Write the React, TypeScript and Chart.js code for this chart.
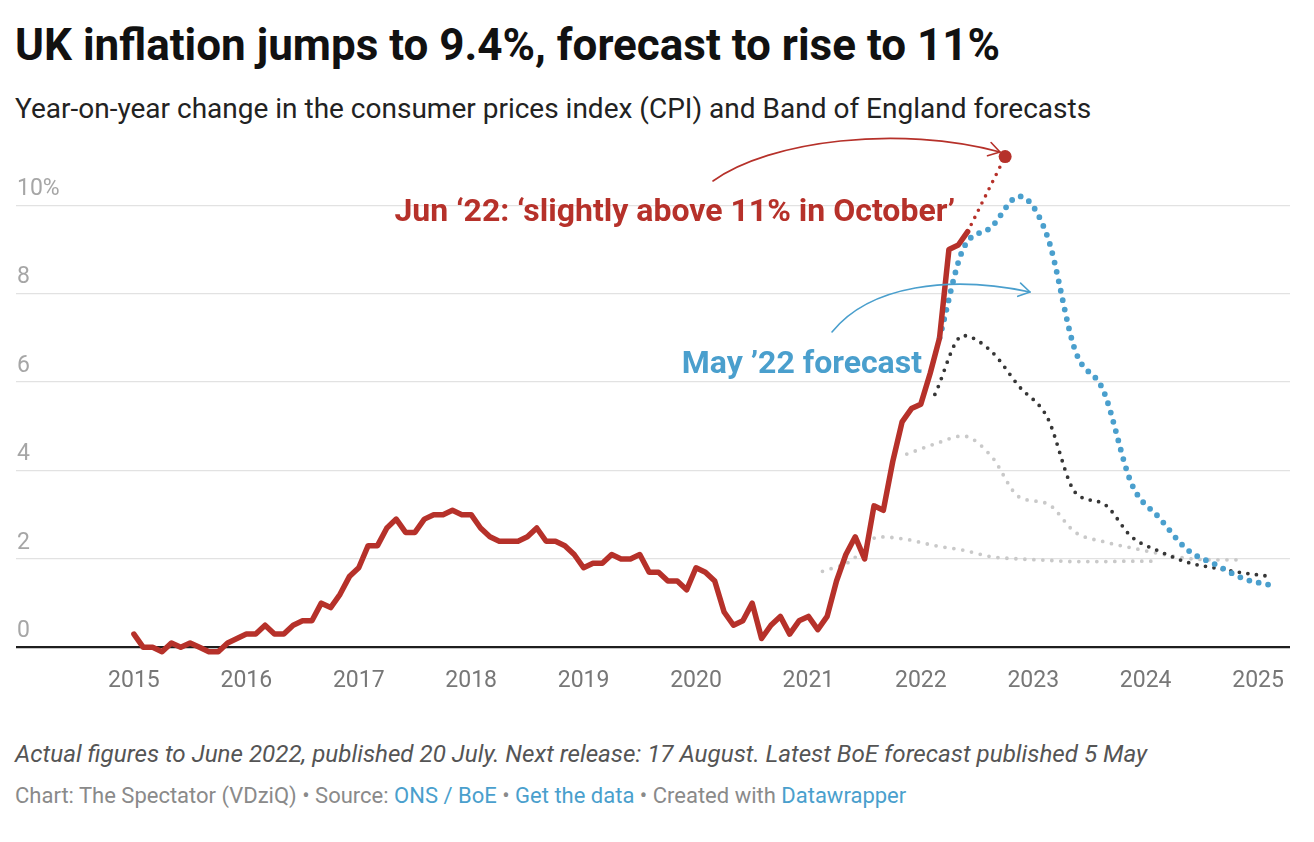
import React, { useEffect, useRef } from "react";
import { Chart, registerables } from "chart.js";

Chart.register(...registerables);

// ---------- data ----------
const firstYear = 2015; // monthly CPI series starts Jan 2015
const cpiActual = [
  0.3, 0.0, 0.0, -0.1, 0.1, 0.0, 0.1, 0.0, -0.1, -0.1, 0.1, 0.2,
  0.3, 0.3, 0.5, 0.3, 0.3, 0.5, 0.6, 0.6, 1.0, 0.9, 1.2, 1.6,
  1.8, 2.3, 2.3, 2.7, 2.9, 2.6, 2.6, 2.9, 3.0, 3.0, 3.1, 3.0,
  3.0, 2.7, 2.5, 2.4, 2.4, 2.4, 2.5, 2.7, 2.4, 2.4, 2.3, 2.1,
  1.8, 1.9, 1.9, 2.1, 2.0, 2.0, 2.1, 1.7, 1.7, 1.5, 1.5, 1.3,
  1.8, 1.7, 1.5, 0.8, 0.5, 0.6, 1.0, 0.2, 0.5, 0.7, 0.3, 0.6,
  0.7, 0.4, 0.7, 1.5, 2.1, 2.5, 2.0, 3.2, 3.1, 4.2, 5.1, 5.4,
  5.5, 6.2, 7.0, 9.0, 9.1, 9.4,
];

const jun22Dates = ["2022-06", "2022-10"];
const jun22Values = [9.4, 11.1];

const may22Dates = ["2022-03", "2022Q2", "2022Q3", "2022Q4", "2023Q1", "2023Q2", "2023Q3", "2023Q4", "2024Q1", "2024Q2", "2024Q3", "2024Q4", "2025Q1"];
const may22Values = [7.0, 9.0, 9.5, 10.2, 9.3, 6.7, 5.8, 3.7, 2.92, 2.2, 1.87, 1.55, 1.4];

const feb22Dates = ["2022Q1", "2022Q2", "2022Q3", "2022Q4", "2023Q1", "2023Q2", "2023Q3", "2023Q4", "2024Q1", "2024Q2", "2024Q3", "2024Q4", "2025Q1"];
const feb22Values = [5.72, 7.05, 6.7, 5.9, 5.2, 3.5, 3.25, 2.5, 2.17, 1.92, 1.79, 1.68, 1.6];

const nov21Dates = ["2021Q4", "2022Q1", "2022Q2", "2022Q3", "2022Q4", "2023Q1", "2023Q2", "2023Q3", "2023Q4", "2024Q1", "2024Q2", "2024Q3", "2024Q4"];
const nov21Values = [4.37, 4.6, 4.78, 4.33, 3.4, 3.25, 2.6, 2.39, 2.25, 2.12, 2.01, 1.98, 1.98];

const earlierDates = ["2021Q1", "2021Q2", "2021Q3", "2021Q4", "2022Q1", "2022Q2", "2022Q3", "2022Q4", "2023Q1", "2023Q2", "2023Q3", "2023Q4", "2024Q1"];
const earlierValues = [1.72, 1.95, 2.5, 2.44, 2.3, 2.2, 2.05, 2.0, 1.97, 1.94, 1.94, 1.95, 1.95];

const yearTicks = [2015, 2016, 2017, 2018, 2019, 2020, 2021, 2022, 2023, 2024, 2025];
const valueTicks = [0, 2, 4, 6, 8, 10];

// ---------- style ----------
const RED = "#b6312a";
const BLUE = "#4a9fcd";
const DARK = "#363636";
const GREY = "#c9c9c9";
const FONT = "Roboto, 'Noto Sans', sans-serif";

const CANVAS_TOP = 130;
const CANVAS_W = 1314;
const CANVAS_H = 579;
const X_MIN = 2013.951;
const X_MAX = 2025.284;
const Y_MIN = -0.2;
const Y_MAX = 11.5;

function dateToYear(s: string): number {
  const q = s.match(/^(\d{4})Q(\d)$/);
  if (q) return Number(q[1]) + (Number(q[2]) - 0.5) / 4;
  const m = s.match(/^(\d{4})-(\d{2})$/)!;
  return Number(m[1]) + (Number(m[2]) - 1) / 12;
}

function toPoints(dates: string[], values: number[]) {
  return dates.map((d, i) => ({ x: dateToYear(d), y: values[i] }));
}

function drawArrow(ctx: CanvasRenderingContext2D, pts: number[], color: string) {
  const [x0, y0, c1x, c1y, c2x, c2y, x1, y1] = pts.map((v, i) => (i % 2 === 1 ? v - CANVAS_TOP : v));
  ctx.save();
  ctx.strokeStyle = color;
  ctx.lineWidth = 1.6;
  ctx.lineCap = "round";
  ctx.lineJoin = "round";
  ctx.beginPath();
  ctx.moveTo(x0, y0);
  ctx.bezierCurveTo(c1x, c1y, c2x, c2y, x1, y1);
  ctx.stroke();
  const ang = Math.atan2(y1 - c2y, x1 - c2x);
  const L = 13;
  const sp = 0.55;
  ctx.beginPath();
  ctx.moveTo(x1 - L * Math.cos(ang - sp), y1 - L * Math.sin(ang - sp));
  ctx.lineTo(x1, y1);
  ctx.lineTo(x1 - L * Math.cos(ang + sp), y1 - L * Math.sin(ang + sp));
  ctx.stroke();
  ctx.restore();
}

const arrowPlugin = {
  id: "arrows",
  afterDatasetsDraw(chart: any) {
    const ctx = chart.ctx as CanvasRenderingContext2D;
    drawArrow(ctx, [713, 181, 770, 140, 900, 125, 1000, 152], RED);
    drawArrow(ctx, [832, 332, 870, 285, 950, 275, 1030, 292], BLUE);
  },
};

function ChartCanvas() {
  const ref = useRef<HTMLCanvasElement | null>(null);
  useEffect(() => {
    if (!ref.current) return;
    const actualPoints = cpiActual.map((v, i) => ({ x: firstYear + i / 12, y: v }));
    const dotted = (color: string, width: number, gap: number) => ({
      borderColor: color,
      borderWidth: width,
      borderDash: [0, gap],
      borderCapStyle: "round" as const,
      pointRadius: 0,
      cubicInterpolationMode: "monotone" as const,
      fill: false,
    });
    const jun = toPoints(jun22Dates, jun22Values);
    const chart = new Chart(ref.current, {
      type: "line",
      data: {
        datasets: [
          {
            label: "CPI",
            data: actualPoints,
            borderColor: RED,
            borderWidth: 5.5,
            borderJoinStyle: "round",
            borderCapStyle: "round",
            pointRadius: 0,
            tension: 0,
            clip: false,
          } as any,
          {
            label: "Jun 22",
            data: jun,
            borderColor: RED,
            borderWidth: 3.6,
            borderDash: [0, 8],
            borderCapStyle: "round",
            tension: 0,
            pointRadius: (c: any) => (c.dataIndex === jun.length - 1 ? 6.5 : 0),
            pointBackgroundColor: RED,
            pointBorderWidth: 0,
            clip: false,
          } as any,
          { label: "May 22", data: toPoints(may22Dates, may22Values), ...dotted(BLUE, 5.8, 9.6) } as any,
          { label: "Feb 22", data: toPoints(feb22Dates, feb22Values), ...dotted(DARK, 3.8, 8.6) } as any,
          { label: "Nov 21", data: toPoints(nov21Dates, nov21Values), ...dotted(GREY, 3.8, 9) } as any,
          { label: "Earlier", data: toPoints(earlierDates, earlierValues), ...dotted(GREY, 3.8, 9) } as any,
        ],
      },
      options: {
        responsive: false,
        animation: false,
        events: [],
        layout: { padding: { left: 14, right: 24, top: 8.85, bottom: 11.6 } },
        plugins: { legend: { display: false }, tooltip: { enabled: false } },
        scales: {
          x: {
            type: "linear",
            min: X_MIN,
            max: X_MAX,
            grid: { display: false },
            border: { display: false },
            afterBuildTicks: (s: any) => {
              s.ticks = yearTicks.map((v) => ({ value: v }));
            },
            afterFit: (s: any) => {
              s.paddingLeft = 0;
              s.paddingRight = 0;
            },
            ticks: {
              autoSkip: false,
              maxRotation: 0,
              padding: 2.8,
              color: "#777777",
              font: { family: FONT, size: 23 },
              callback: (v: any) => String(v),
            },
          },
          y: {
            type: "linear",
            min: Y_MIN,
            max: Y_MAX,
            position: "left",
            border: { display: false },
            grid: {
              drawTicks: false,
              color: (c: any) => (c.tick && c.tick.value === 0 ? "#1e1e1e" : "#e2e2e2"),
              lineWidth: (c: any) => (c.tick && c.tick.value === 0 ? 2.2 : 1.3),
            },
            afterBuildTicks: (s: any) => {
              s.ticks = valueTicks.map((v) => ({ value: v }));
            },
            afterFit: (s: any) => {
              s.paddingTop = 0;
              s.paddingBottom = 0;
            },
            ticks: {
              mirror: true,
              padding: 1,
              labelOffset: -16,
              color: "#a6a6a6",
              font: { family: FONT, size: 23 },
              callback: (v: any) => (v === 10 ? "10%" : String(v)),
            },
          },
        },
      } as any,
      plugins: [arrowPlugin],
    });
    return () => chart.destroy();
  }, []);
  return (
    <canvas
      ref={ref}
      width={CANVAS_W}
      height={CANVAS_H}
      style={{ position: "absolute", left: 0, top: CANVAS_TOP, width: CANVAS_W, height: CANVAS_H }}
    />
  );
}

const abs = (left: number, top: number, extra: React.CSSProperties = {}): React.CSSProperties => ({
  position: "absolute",
  left,
  top,
  lineHeight: 1,
  whiteSpace: "nowrap",
  fontFamily: FONT,
  ...extra,
});

export default function App() {
  return (
    <div style={{ position: "fixed", left: 0, top: 0, width: 1314, height: 842, background: "#fff", overflow: "hidden" }}>
      <div style={abs(15, 23, { fontSize: 44, fontWeight: 700, color: "#111" })}>
        UK inflation jumps to 9.4%, forecast to rise to 11%
      </div>
      <div style={abs(15, 94.5, { fontSize: 28, color: "#222" })}>
        Year-on-year change in the consumer prices index (CPI) and Band of England forecasts
      </div>
      <ChartCanvas />
      <div style={abs(0, 194, { width: 955, textAlign: "right", fontSize: 32, fontWeight: 700, color: RED })}>
        Jun ‘22: ‘slightly above 11% in October’
      </div>
      <div style={abs(0, 346, { width: 922, textAlign: "right", fontSize: 32, fontWeight: 700, color: BLUE })}>
        May ’22 forecast
      </div>
      <div style={abs(15, 741.5, { fontSize: 24.2, fontStyle: "italic", color: "#555" })}>
        Actual figures to June 2022, published 20 July. Next release: 17 August. Latest BoE forecast published 5 May
      </div>
      <div style={abs(15, 784.5, { fontSize: 22, color: "#8a8a8a" })}>
        Chart: The Spectator (VDziQ) • Source: <span style={{ color: BLUE }}>ONS / BoE</span> •{" "}
        <span style={{ color: BLUE }}>Get the data</span> • Created with{" "}
        <span style={{ color: BLUE }}>Datawrapper</span>
      </div>
    </div>
  );
}
